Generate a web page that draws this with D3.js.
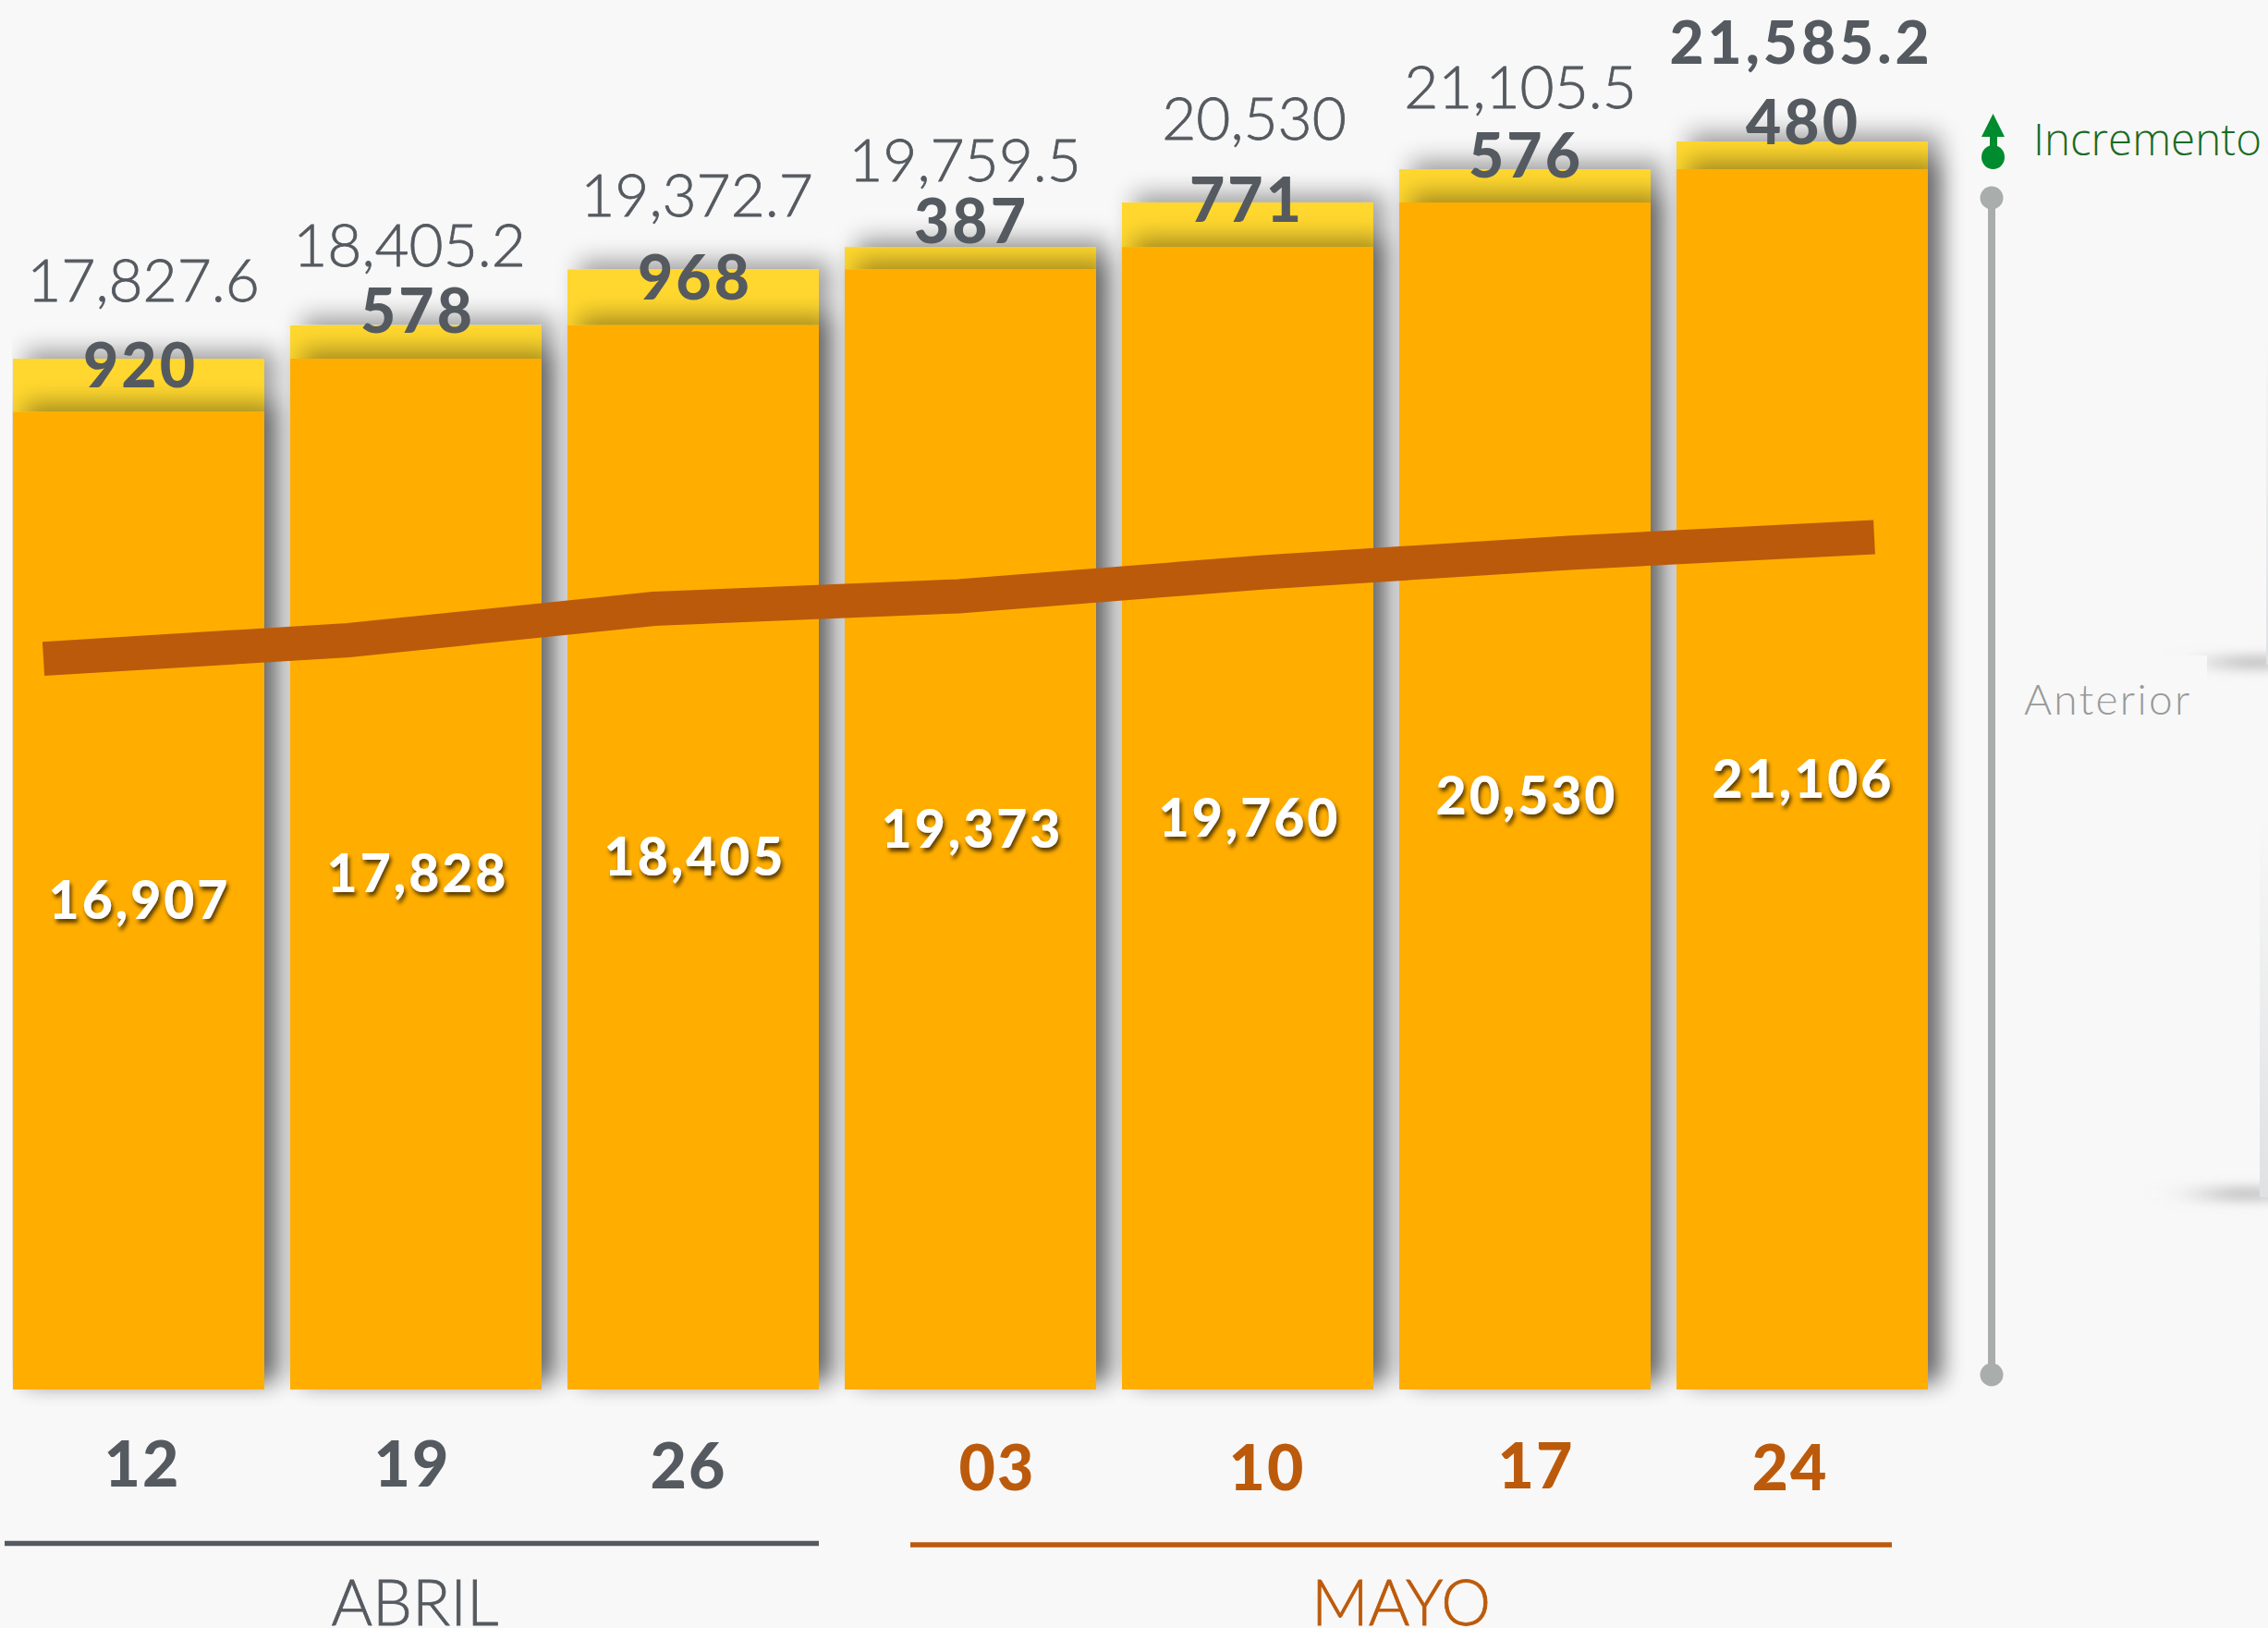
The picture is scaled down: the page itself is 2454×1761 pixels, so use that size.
<!DOCTYPE html>
<html>
<head>
<meta charset="utf-8">
<script src="https://cdn.jsdelivr.net/npm/d3@7"></script>
<style>
html,body{margin:0;padding:0;background:#f8f8f8;overflow:hidden}
svg{display:block}
</style>
</head>
<body>
<svg id="c" width="2454" height="1761"></svg>
<script>
const days = ["12","19","26","03","10","17","24"];
const monthOfDay = ["ABRIL","ABRIL","ABRIL","MAYO","MAYO","MAYO","MAYO"];
const months = ["ABRIL","MAYO"];
const previous = [16907,17828,18405,19373,19760,20530,21106];
const increment = [920,578,968,387,771,576,480];
const totals = [17827.6,18405.2,19372.7,19759.5,20530,21105.5,21585.2];
const lineValues = [12637,12960,13503,13720,14135,14471,14743];

const INK="#555a60", ORANGE="#bc5a0b", BAR="#ffae00", YELLOW="#ffd72f", GREY="#a9adac", GREEN="#008b2e", BG="#f8f8f8";
const svg=d3.select("#c");
const defs=svg.append("defs");
const f=defs.append("filter").attr("id","sh").attr("filterUnits","userSpaceOnUse").attr("x",0).attr("y",0).attr("width",2454).attr("height",1761);
f.html(`<feGaussianBlur in="SourceAlpha" stdDeviation="13" result="b1"/>
<feOffset in="b1" dx="13" dy="-9" result="o1"/><feComponentTransfer in="o1" result="s1"><feFuncA type="linear" slope=".37"/></feComponentTransfer>
<feMerge><feMergeNode in="s1"/><feMergeNode in="SourceGraphic"/></feMerge>`);
const ft=defs.append("filter").attr("id","tsh").attr("x","-20%").attr("y","-20%").attr("width","140%").attr("height","150%");
ft.append("feDropShadow").attr("dx",2).attr("dy",4).attr("stdDeviation",2).attr("flood-color","#3a2600").attr("flood-opacity",.85);
const blur=defs.append("filter").attr("id","bl").attr("filterUnits","userSpaceOnUse").attr("x",2200).attr("y",600).attr("width",254).attr("height",800);
blur.append("feGaussianBlur").attr("stdDeviation","34 7");
const grad=defs.append("linearGradient").attr("id","strip").attr("x1",0).attr("x2",0).attr("y1",0).attr("y2",1);
grad.append("stop").attr("offset",0).attr("stop-color",BG);
grad.append("stop").attr("offset",1).attr("stop-color","#e0e1e3");

const x=d3.scaleBand().domain(days).range([14,2086]).paddingInner(28/300).paddingOuter(0);
const y=d3.scaleLinear().domain([0,21585.2]).range([1503,153]);
const xLine=d3.scalePoint().domain(days).range([47,2028]);
const cx=d=>x(d)+x.bandwidth()/2;

const rows=days.map((d,i)=>({d,i,prev:previous[i],inc:increment[i],total:totals[i],line:lineValues[i]}));
const g=svg.append("g").selectAll("g").data(rows).join("g");
g.append("rect").attr("x",r=>x(r.d)).attr("width",x.bandwidth()).attr("y",r=>y(r.total)).attr("height",r=>y(0)-y(r.total)).attr("fill",YELLOW).attr("filter","url(#sh)");
g.append("rect").attr("x",r=>x(r.d)).attr("width",x.bandwidth()).attr("y",r=>y(r.total-r.inc)).attr("height",r=>y(0)-y(r.total-r.inc)).attr("fill",BAR).attr("filter","url(#sh)");

svg.append("path").attr("d",d3.line().x(r=>xLine(r.d)).y(r=>y(r.line))(rows)).attr("fill","none").attr("stroke",ORANGE).attr("stroke-width",37);

const fam="Lato, 'Open Sans', sans-serif";
// hand-placed label offsets, relative to each bar
const totalDx=[5,-7,4,-6,7,-5,-1], totalDy=[-62,-64,-57,-71,-68,-66,-84];
const incDx=[2,2,2,1,-1,1,1], incDy=[31,8,33,-4,21,9,3];
const prevDx=[1,2,2,2,2,2,1], prevDy=[606,613,656,650,686,698,710];
const dayDx=[4,-4,-5,29,21,12,-13], dayY=[1608,1608,1610,1612,1612,1610,1612];

svg.append("g").selectAll("text").data(rows).join("text")
 .attr("x",r=>cx(r.d)+totalDx[r.i]).attr("y",r=>y(r.total)+totalDy[r.i]).attr("text-anchor","middle")
 .attr("font-family",fam).attr("font-size",64).attr("font-weight",r=>r.i==6?900:300).attr("fill",INK)
 .attr("stroke",r=>r.i==6?"none":INK).attr("stroke-width",.8).attr("letter-spacing",r=>r.i==6?4:0)
 .text(r=>d3.format(",")(r.total));
svg.append("g").selectAll("text").data(rows).join("text")
 .attr("x",r=>cx(r.d)+incDx[r.i]).attr("y",r=>y(r.total)+incDy[r.i]).attr("text-anchor","middle")
 .attr("font-family",fam).attr("font-size",66).attr("font-weight",900).attr("letter-spacing",3).attr("fill",INK).text(r=>r.inc);
svg.append("g").selectAll("text").data(rows).join("text")
 .attr("x",r=>cx(r.d)+prevDx[r.i]).attr("y",r=>y(r.total)+prevDy[r.i]).attr("text-anchor","middle")
 .attr("font-family",fam).attr("font-size",57).attr("font-weight",900).attr("letter-spacing",3).attr("fill","#fff").attr("filter","url(#tsh)")
 .text(r=>d3.format(",")(r.prev));

svg.append("g").selectAll("text").data(rows).join("text")
 .attr("x",r=>cx(r.d)+dayDx[r.i]).attr("y",r=>dayY[r.i]).attr("text-anchor","middle")
 .attr("font-family",fam).attr("font-size",68).attr("font-weight",900).attr("letter-spacing",2).attr("fill",r=>monthOfDay[r.i]=="MAYO"?ORANGE:INK).text(r=>r.d);
const mLayout={ABRIL:{x0:5,x1:886,y:1669.5,c:INK,tx:449},MAYO:{x0:985,x1:2047,y:1671,c:ORANGE,tx:1516}};
months.forEach(m=>{const L=mLayout[m];
 svg.append("line").attr("x1",L.x0).attr("x2",L.x1).attr("y1",L.y).attr("y2",L.y).attr("stroke",L.c).attr("stroke-width",5.5);
 svg.append("text").attr("x",L.tx).attr("y",1758).attr("text-anchor","middle").attr("font-family",fam).attr("font-size",68).attr("font-weight",300).attr("stroke",L.c).attr("stroke-width",.8).attr("fill",L.c).text(m);
});

// traces of a neighbouring panel cut off at the right edge
const edge=svg.append("g");
edge.append("rect").attr("x",2410).attr("y",711).attr("width",60).attr("height",11).attr("fill","#888").attr("filter","url(#bl)");
edge.append("rect").attr("x",2400).attr("y",1286).attr("width",60).attr("height",11).attr("fill","#888").attr("filter","url(#bl)");
edge.append("rect").attr("x",2180).attr("y",709).attr("width",208).attr("height",90).attr("fill",BG);
edge.append("rect").attr("x",2452).attr("y",360).attr("width",2).attr("height",359).attr("fill","url(#strip)");
edge.append("rect").attr("x",2445).attr("y",882).attr("width",9).attr("height",413).attr("fill","url(#strip)");

// legend
const lg=svg.append("g");
lg.append("path").attr("d",d3.line()([[2156.5,123],[2169,148],[2144,148]])+"Z").attr("fill",GREEN);
lg.append("rect").attr("x",2153).attr("y",148).attr("width",8).attr("height",12).attr("fill",GREEN);
lg.append("ellipse").attr("cx",2156.5).attr("cy",170).attr("rx",12.5).attr("ry",13).attr("fill",GREEN);
lg.append("text").attr("x",2200).attr("y",168).attr("font-family","'Open Sans',sans-serif").attr("font-weight",300).attr("font-size",47.5).attr("fill","#1b6b23").text("Incremento");
lg.append("rect").attr("x",2151).attr("y",214).attr("width",8).attr("height",1273).attr("fill",GREY);
lg.append("ellipse").attr("cx",2155).attr("cy",214).attr("rx",12.5).attr("ry",12.5).attr("fill",GREY);
lg.append("ellipse").attr("cx",2155).attr("cy",1487).attr("rx",12.5).attr("ry",12.5).attr("fill",GREY);
lg.append("text").attr("x",2190).attr("y",773).attr("font-family",fam).attr("font-weight",300).attr("font-size",46).attr("fill","#999").attr("letter-spacing",2.3).text("Anterior");
</script>
</body>
</html>
